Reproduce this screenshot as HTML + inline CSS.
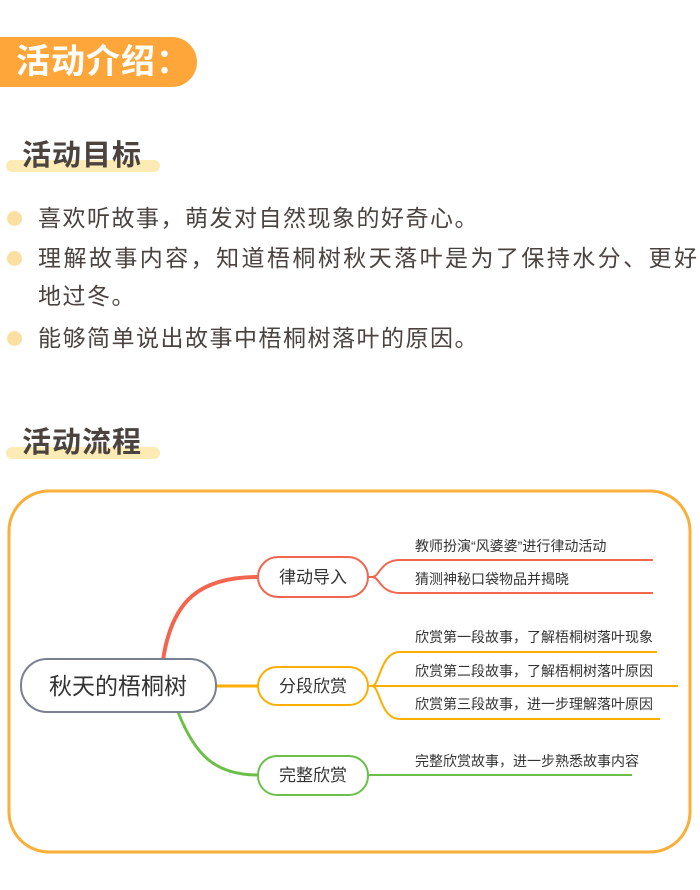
<!DOCTYPE html>
<html><head><meta charset="utf-8"><style>
body{margin:0;width:700px;height:890px;background:#fff;position:relative;overflow:hidden;font-family:"Liberation Sans","Noto Sans CJK SC",sans-serif;}
.a{position:absolute;white-space:nowrap;}
.banner{left:0;top:37px;width:197px;height:50px;background:#FFA63A;border-radius:0 25px 25px 0;}
.bt{left:16px;top:37px;line-height:50px;font-size:34px;color:#fff;font-weight:bold;letter-spacing:1px;}
.bar{height:12px;background:#FDEBB5;border-radius:6px;}
.h{font-size:29px;color:#4a4340;font-weight:bold;letter-spacing:1px;}
.dot{width:15px;height:15px;border-radius:50%;background:#FCE0A3;left:7px;}
.t{font-size:23px;color:#4a4340;letter-spacing:1.5px;line-height:28px;}
</style></head><body>
<div class="a banner"></div>
<div class="a bt">活动介绍：</div>
<div class="a bar" style="left:6px;top:160px;width:154px"></div>
<div class="a h" style="left:22px;top:132px">活动目标</div>
<div class="a dot" style="top:211px"></div>
<div class="a t" style="left:38px;top:204px">喜欢听故事，萌发对自然现象的好奇心。</div>
<div class="a dot" style="top:251px"></div>
<div class="a t" style="left:38px;top:244px;width:659px;text-align:justify;text-align-last:justify;letter-spacing:0">理解故事内容，知道梧桐树秋天落叶是为了保持水分、更好</div>
<div class="a t" style="left:38px;top:282px">地过冬。</div>
<div class="a dot" style="top:331px"></div>
<div class="a t" style="left:38px;top:324px">能够简单说出故事中梧桐树落叶的原因。</div>
<div class="a bar" style="left:6px;top:447px;width:154px"></div>
<div class="a h" style="left:22px;top:419px">活动流程</div>
<svg class="a" style="left:0;top:0" width="700" height="890" font-family="Liberation Sans, Noto Sans CJK SC, sans-serif">
<rect x="9" y="491" width="681" height="361" rx="40" fill="none" stroke="#F9AF3A" stroke-width="3"/>
<path d="M163 660 C172 600,200 577,258 577" fill="none" stroke="#F26650" stroke-width="4"/>
<line x1="216" y1="686" x2="258" y2="686" stroke="#FFAE00" stroke-width="3"/>
<path d="M178 712 C195 755,215 775,258 775" fill="none" stroke="#6CC04A" stroke-width="3"/>
<rect x="21" y="659" width="195" height="53" rx="26" fill="#fff" stroke="#7A8090" stroke-width="2"/>
<text x="118" y="694" font-size="23" fill="#333" text-anchor="middle">秋天的梧桐树</text>
<g fill="none" stroke-width="2">
<path d="M368 577 H372 C380 577,380 560,400 560 H653 M372 577 C380 577,380 593,400 593 H653" stroke="#F26650"/>
<path d="M368 686 H372 C380 686,380 652,400 652 H657 M372 686 H678 M372 686 C380 686,380 719,400 719 H660" stroke="#FFAE00"/>
<line x1="368" y1="775" x2="632" y2="775" stroke="#6CC04A"/>
</g>
<rect x="258" y="557" width="110" height="40" rx="20" fill="#fff" stroke="#F26650" stroke-width="2"/>
<rect x="258" y="667" width="110" height="38" rx="19" fill="#fff" stroke="#FFAE00" stroke-width="2"/>
<rect x="258" y="756" width="110" height="39" rx="19" fill="#fff" stroke="#6CC04A" stroke-width="2"/>
<g font-size="17" fill="#333" text-anchor="middle">
<text x="313" y="583">律动导入</text>
<text x="313" y="692">分段欣赏</text>
<text x="313" y="781">完整欣赏</text>
</g>
<g font-size="14" fill="#333">
<text x="415" y="551">教师扮演“风婆婆”进行律动活动</text>
<text x="415" y="584">猜测神秘口袋物品并揭晓</text>
<text x="415" y="642">欣赏第一段故事，了解梧桐树落叶现象</text>
<text x="415" y="676">欣赏第二段故事，了解梧桐树落叶原因</text>
<text x="415" y="709">欣赏第三段故事，进一步理解落叶原因</text>
<text x="415" y="766">完整欣赏故事，进一步熟悉故事内容</text>
</g>
</svg>
</body></html>
